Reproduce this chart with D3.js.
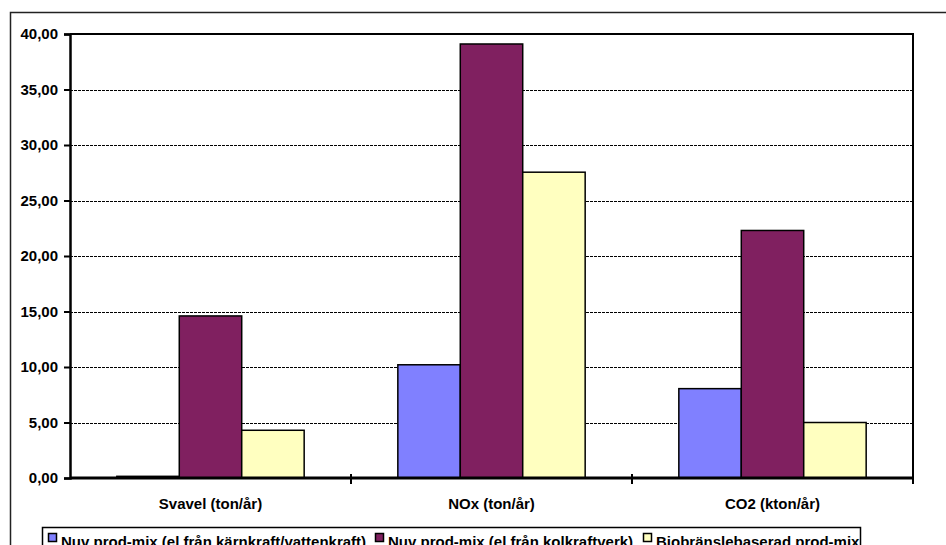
<!DOCTYPE html>
<html>
<head>
<meta charset="utf-8">
<script src="https://cdn.jsdelivr.net/npm/d3@7"></script>
<style>
  html, body { margin: 0; padding: 0; background: #fff; }
  svg { display: block; font-family: "Liberation Sans", Arial, sans-serif; font-weight: bold; }
</style>
</head>
<body>
<svg id="chart" width="946" height="545"></svg>
<script>
// Emissions per category for three production mixes
const categories = ["Svavel (ton/år)", "NOx (ton/år)", "CO2 (kton/år)"];
const seriesNames = [
  "Nuv prod-mix (el från kärnkraft/vattenkraft)",
  "Nuv prod-mix (el från kolkraftverk)",
  "Biobränslebaserad prod-mix"
];
const valuesKarnVatten = [0.15, 10.2, 8.05];
const valuesKolkraft = [14.6, 39.1, 22.3];
const valuesBiobransle = [4.3, 27.55, 5.0];
const yTicks = [0, 5, 10, 15, 20, 25, 30, 35, 40];
const seriesColors = ["#8080FF", "#802060", "#FFFFC0"];

const seriesValues = [valuesKarnVatten, valuesKolkraft, valuesBiobransle];

const svg = d3.select("#chart");
const plot = { left: 70, top: 34, right: 913, bottom: 478 };
const fontSize = 15;

// Outer chart frame
svg.append("rect")
  .attr("x", 10.5).attr("y", 12.5)
  .attr("width", 1000).attr("height", 600)
  .attr("fill", "none").attr("stroke", "#222").attr("stroke-width", 1.5);

const y = d3.scaleLinear().domain([0, 40]).range([plot.bottom, plot.top]);
const x0 = d3.scaleBand().domain(categories).range([plot.left, plot.right]).padding(0);
const x1 = d3.scaleBand().domain(d3.range(seriesNames.length))
  .range([0, x0.bandwidth()]).paddingInner(0).paddingOuter(0.75);

// Dashed gridlines
svg.append("g").selectAll("line")
  .data(yTicks.filter(t => t > 0 && t < 40))
  .join("line")
  .attr("x1", plot.left).attr("x2", plot.right)
  .attr("y1", d => Math.round(y(d)) + 0.5).attr("y2", d => Math.round(y(d)) + 0.5)
  .attr("stroke", "#000").attr("stroke-width", 1)
  .attr("stroke-dasharray", "3,1");

// Bars
const groups = svg.append("g").selectAll("g")
  .data(categories)
  .join("g")
  .attr("transform", d => `translate(${x0(d)},0)`);

groups.selectAll("rect")
  .data((c, ci) => seriesValues.map((vals, si) => ({ si, v: vals[ci] })))
  .join("rect")
  .attr("x", d => x1(d.si))
  .attr("y", d => y(d.v))
  .attr("width", x1.bandwidth())
  .attr("height", d => y(0) - y(d.v))
  .attr("fill", d => seriesColors[d.si])
  .attr("stroke", "#000").attr("stroke-width", 1.5);

// Plot area top and right border
svg.append("path")
  .attr("d", `M${plot.left},${plot.top}H${plot.right}V${plot.bottom}`)
  .attr("fill", "none").attr("stroke", "#000").attr("stroke-width", 2);

// Y axis
const yAxis = svg.append("g")
  .attr("transform", `translate(${plot.left},0)`)
  .call(d3.axisLeft(y).tickValues(yTicks).tickSize(6).tickPadding(6)
    .tickFormat(d => d3.format(".2f")(d).replace(".", ",")));
yAxis.select(".domain").attr("stroke", "#000").attr("stroke-width", 2.5);
yAxis.selectAll(".tick line").attr("stroke", "#000").attr("stroke-width", 2);
yAxis.selectAll("text").attr("font-size", fontSize).attr("font-weight", "bold")
  .attr("font-family", "Liberation Sans, Arial, sans-serif").attr("fill", "#000");

// Category axis
const boundaries = [plot.left].concat(categories.map(c => x0(c) + x0.bandwidth()));
svg.append("line")
  .attr("x1", plot.left).attr("x2", plot.right)
  .attr("y1", plot.bottom).attr("y2", plot.bottom)
  .attr("stroke", "#000").attr("stroke-width", 3);
svg.append("g").selectAll("line")
  .data(boundaries.slice(1))
  .join("line")
  .attr("x1", d => d).attr("x2", d => d)
  .attr("y1", plot.bottom - 4).attr("y2", plot.bottom + 6)
  .attr("stroke", "#000").attr("stroke-width", 2);

svg.append("g").selectAll("text")
  .data(categories)
  .join("text")
  .attr("x", d => x0(d) + x0.bandwidth() / 2)
  .attr("y", 509)
  .attr("text-anchor", "middle")
  .attr("font-size", fontSize)
  .text(d => d);

// Legend
const legend = svg.append("g");
legend.append("rect")
  .attr("x", 42.5).attr("y", 527.5).attr("width", 818).attr("height", 40)
  .attr("fill", "#fff").attr("stroke", "#000").attr("stroke-width", 1.5);
const legendX = [48, 375, 643];
seriesNames.forEach((name, i) => {
  legend.append("rect")
    .attr("x", legendX[i] + 0.5).attr("y", 533.5).attr("width", 8).attr("height", 8)
    .attr("fill", seriesColors[i]).attr("stroke", "#000").attr("stroke-width", 1.5);
  legend.append("text")
    .attr("x", legendX[i] + 13).attr("y", 547)
    .attr("font-size", fontSize)
    .text(name);
});
</script>
</body>
</html>
